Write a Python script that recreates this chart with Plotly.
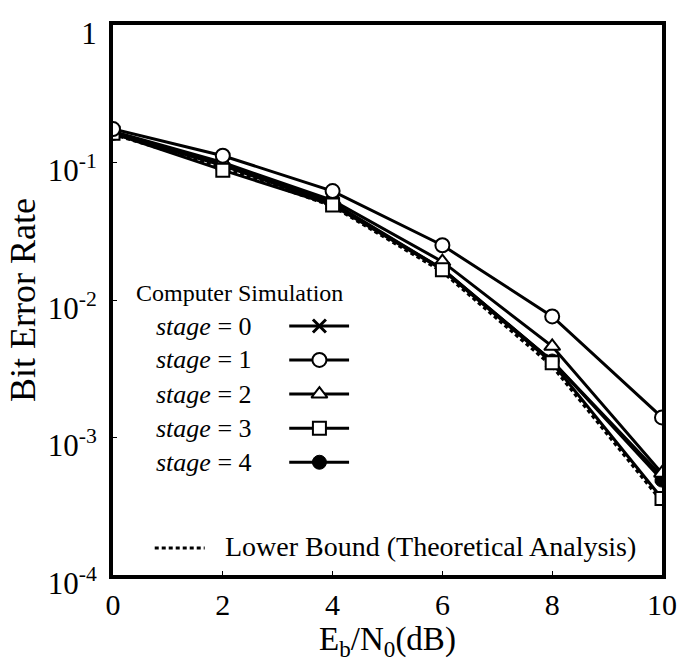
import plotly.graph_objects as go

x_db = [0, 2, 4, 6, 8, 10]
stage0 = [0.165, 0.097, 0.051, 0.0168, 0.0036, 0.00052]
stage1 = [0.175, 0.112, 0.062, 0.025, 0.0076, 0.0014]
stage2 = [0.168, 0.100, 0.053, 0.019, 0.0046, 0.00055]
stage3 = [0.163, 0.088, 0.049, 0.0166, 0.0035, 0.00036]
stage4 = [0.163, 0.095, 0.050, 0.0168, 0.0036, 0.00049]
lower_bound = [0.160, 0.092, 0.048, 0.0160, 0.0033, 0.00034]

y_tickvals = [1, 0.1, 0.01, 0.001, 0.0001]
y_ticktext = ["1", "10<sup>-1</sup>", "10<sup>-2</sup>", "10<sup>-3</sup>", "10<sup>-4</sup>"]
x_tickvals = [0, 2, 4, 6, 8, 10]
stage_names = ["stage = 0", "stage = 1", "stage = 2", "stage = 3", "stage = 4"]

FONT = "Liberation Serif"
BLACK = "black"

markers = [
    dict(symbol="x-thin-open", size=13, color=BLACK, line=dict(color=BLACK, width=3)),
    dict(symbol="circle", size=14, color="white", line=dict(color=BLACK, width=2)),
    dict(symbol="triangle-up", size=14, color="white", line=dict(color=BLACK, width=2)),
    dict(symbol="square", size=13, color="white", line=dict(color=BLACK, width=2)),
    dict(symbol="circle", size=14, color=BLACK, line=dict(color=BLACK, width=1)),
]
series = [stage0, stage1, stage2, stage3, stage4]

fig = go.Figure()

fig.add_trace(go.Scatter(x=x_db, y=lower_bound, mode="lines",
                         line=dict(color=BLACK, width=3, dash="4px,3px"),
                         showlegend=False, hoverinfo="skip"))

draw_order = [4, 0, 2, 3, 1]
for i in draw_order:
    fig.add_trace(go.Scatter(x=x_db, y=series[i], mode="lines+markers",
                             line=dict(color=BLACK, width=3),
                             marker=markers[i], name=stage_names[i], showlegend=False))

# legend drawn on an overlay axis (paper-like 0..1)
leg_y = [0.4527, 0.391, 0.329, 0.267, 0.205]
leg_x0, leg_x1, leg_xm = 0.321, 0.430, 0.376
for i in range(5):
    fig.add_trace(go.Scatter(x=[leg_x0, leg_x1], y=[leg_y[i], leg_y[i]], mode="lines",
                             line=dict(color=BLACK, width=3), xaxis="x2", yaxis="y2",
                             showlegend=False, hoverinfo="skip"))
    fig.add_trace(go.Scatter(x=[leg_xm], y=[leg_y[i]], mode="markers",
                             marker=markers[i], xaxis="x2", yaxis="y2",
                             showlegend=False, hoverinfo="skip"))
    fig.add_annotation(x=0.074, y=leg_y[i], xref="paper", yref="paper",
                       text="<i>stage</i> = %d" % i, showarrow=False,
                       xanchor="left", yanchor="middle",
                       font=dict(family=FONT, size=26, color=BLACK))

fig.add_trace(go.Scatter(x=[0.076, 0.167], y=[0.049, 0.049], mode="lines",
                         line=dict(color=BLACK, width=3, dash="4px,3px"),
                         xaxis="x2", yaxis="y2", showlegend=False, hoverinfo="skip"))

fig.add_annotation(x=0.038, y=0.5127, xref="paper", yref="paper",
                   text="Computer Simulation", showarrow=False,
                   xanchor="left", yanchor="middle",
                   font=dict(family=FONT, size=24, color=BLACK))
fig.add_annotation(x=0.200, y=0.051, xref="paper", yref="paper",
                   text="Lower Bound (Theoretical Analysis)", showarrow=False,
                   xanchor="left", yanchor="middle",
                   font=dict(family=FONT, size=28, color=BLACK))

fig.update_layout(
    width=689, height=664,
    margin=dict(l=113, r=25, t=25, b=89),
    paper_bgcolor="white", plot_bgcolor="white",
    font=dict(family=FONT, color=BLACK),
    xaxis=dict(range=[0, 10], tickvals=x_tickvals, showgrid=False, zeroline=False,
               showline=True, mirror=True, linecolor=BLACK, linewidth=4,
               ticks="inside", ticklen=4, tickwidth=1, tickcolor=BLACK,
               tickfont=dict(family=FONT, size=30, color=BLACK),
               title=dict(text="E<sub>b</sub>/N<sub>0</sub>(dB)",
                          font=dict(family=FONT, size=33, color=BLACK), standoff=0)),
    yaxis=dict(type="log", range=[-4, 0], tickvals=y_tickvals, ticktext=y_ticktext,
               showgrid=False, zeroline=False,
               showline=True, mirror=True, linecolor=BLACK, linewidth=4,
               ticks="inside", ticklen=4, tickwidth=1, tickcolor=BLACK,
               tickfont=dict(family=FONT, size=31, color=BLACK),
               ticklabelstandoff=6, ticklabelshift=8,
               title=dict(text="Bit Error Rate",
                          font=dict(family=FONT, size=36, color=BLACK), standoff=2)),
    xaxis2=dict(range=[0, 1], domain=[0, 1], overlaying="x", visible=False, fixedrange=True),
    yaxis2=dict(range=[0, 1], domain=[0, 1], overlaying="y", visible=False, fixedrange=True),
)

fig.write_html("out.html")
